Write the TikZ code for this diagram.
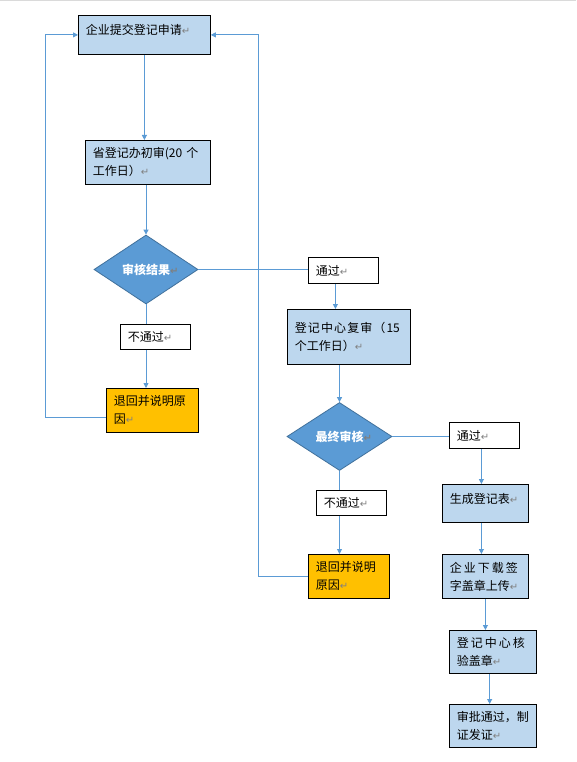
\documentclass[tikz,border=0pt]{standalone}
\usepackage{fontspec}
\setmainfont{Noto Sans CJK SC}
\newfontfamily\retfont{DejaVu Sans}
\usepackage{xcolor}
\usepackage{tikz}
\usetikzlibrary{
    shapes.geometric,
    positioning,
    calc,
    arrows.meta
}
\definecolor{procblue}{HTML}{BDD7EE}
\definecolor{decideblue}{HTML}{5B9BD5}
\definecolor{decideedge}{HTML}{41719C}
\definecolor{backyellow}{HTML}{FFC000}
\definecolor{flowblue}{HTML}{5B9BD5}
\definecolor{retgray}{HTML}{808080}
\definecolor{edgegray}{HTML}{DADADA}
\newcommand{\pmark}{{\retfont\fontsize{10}{10}\selectfont\color{retgray}↵}}
\tikzset{
  basic/.style = {
      draw,
      line width=0.8pt,
      anchor=north west,
      align=left,
      inner xsep=7.5pt,
      inner ysep=0pt,
      font=\fontsize{12}{18}\selectfont
  },
  dims/.code 2 args = {
      \pgfmathsetmacro\boxw{#1-15}%
      \edef\dimsnext{\noexpand\pgfkeysalso{minimum width=#1pt,
        minimum height=#2pt, text width=\boxw pt}}%
      \dimsnext
  },
  lift/.style = {
      text depth=#1
  },
  proc/.style = {
      basic,
      fill=procblue
  },
  returnbox/.style = {
      basic,
      fill=backyellow
  },
  tag/.style = {
      basic,
      fill=white
  },
  decide/.style = {
      diamond,
      draw=decideedge,
      fill=decideblue,
      line width=0.8pt,
      inner sep=0pt,
      text=white,
      font=\fontsize{12}{18}\selectfont\bfseries
  },
  flow/.style = {
      draw=flowblue,
      line width=0.8pt
  },
  flowarrow/.style = {
      flow,
      -{Triangle[length=5pt, width=5pt]}
  }
}
\begin{document}
\begin{tikzpicture}[x=1pt, y=-1pt]
    \path[fill=white] (0,0) rectangle (576,762);
    \useasboundingbox (0,0) rectangle (576,762);
    \draw[edgegray, line width=1.5pt] (0,0.75) -- (576,0.75);
    % Nodes
    \node[proc, dims={132}{39}, lift=10pt] (apply) at (78,15) {企业提交登记申请\pmark};
    \node[proc, dims={125}{44}] (first) at (85,140) {省登记办初审(20~个\\工作日）\pmark};
    \node[decide, minimum width=104pt, minimum height=69pt] (result) at (146,269.5) {审核结果\rlap{\pmark}};
    \node[tag, dims={70}{26}] (pass) at (308,257) {通过\pmark};
    \node[tag, dims={70}{25}] (fail) at (120,324) {不通过\pmark};
    \node[returnbox, dims={92}{44}] (back) at (106,388) {退回并说明原\\因\pmark};
    \node[proc, dims={123}{55}] (review) at (287,309) {\makebox[105pt][s]{登\hfill 记\hfill 中\hfill 心\hfill 复\hfill 审\hfill （\hfill 15}\\个工作日）\pmark};
    \node[decide, minimum width=105pt, minimum height=68pt] (final) at (339.5,436.5) {最终审核\rlap{\pmark}};
    \node[tag, dims={70}{26}] (passb) at (449,422) {通过\pmark};
    \node[tag, dims={70}{25}] (failb) at (316,490) {不通过\pmark};
    \node[returnbox, dims={81}{44}] (backb) at (308,554) {退回并说明\\原因\pmark};
    \node[proc, dims={86}{38}, lift=10pt] (table) at (442,484) {生成登记表\pmark};
    \node[proc, dims={86}{44}] (upload) at (442,554) {\makebox[68pt][s]{企\hfill 业\hfill 下\hfill 载\hfill 签}\\字盖章上传\pmark};
    \node[proc, dims={86.5}{43}] (verify) at (449,630) {\makebox[68pt][s]{登\hfill 记\hfill 中\hfill 心\hfill 核}\\验盖章\pmark};
    \node[proc, dims={86.5}{43}] (issue) at (449,704) {审批通过，制\\证发证\pmark};
    \coordinate (loopl) at (45,0);
    \coordinate (loopr) at (258,0);
    % Edges
    \path[flowarrow] (apply.south) -- (apply.south |- first.north);
    \path[flowarrow] (result.north |- first.south) -- (result.north);
    \path[flow] (result.east) -- (result.east -| pass.west);
    \path[flowarrow] ([xshift=-8pt]pass.south) -- ([xshift=-8pt]pass.south |- review.north);
    \path[flowarrow] (final.north |- review.south) -- (final.north);
    \path[flow] (result.south) -- (result.south |- fail.north);
    \path[flowarrow] (result.south |- fail.south) -- (result.south |- back.north);
    \path[flowarrow] ([yshift=-7pt]back.west) -| (loopl |- apply.west) -- (apply.west);
    \path[flow] (final.east) -- (final.east -| passb.west);
    \path[flowarrow] ([xshift=-3pt]passb.south) -- ([xshift=-3pt]passb.south |- table.north);
    \path[flowarrow] ([xshift=-4pt]table.south) -- ([xshift=-4pt]table.south |- upload.north);
    \path[flowarrow] (upload.south) -- (upload.south |- verify.north);
    \path[flowarrow] ([xshift=-3pt]verify.south) -- ([xshift=-3pt]verify.south |- issue.north);
    \path[flow] (final.south) -- (final.south |- failb.north);
    \path[flowarrow] (final.south |- failb.south) -- (final.south |- backb.north);
    \path[flowarrow] (backb.west) -| (loopr |- apply.east) -- (apply.east);
\end{tikzpicture}
\end{document}
